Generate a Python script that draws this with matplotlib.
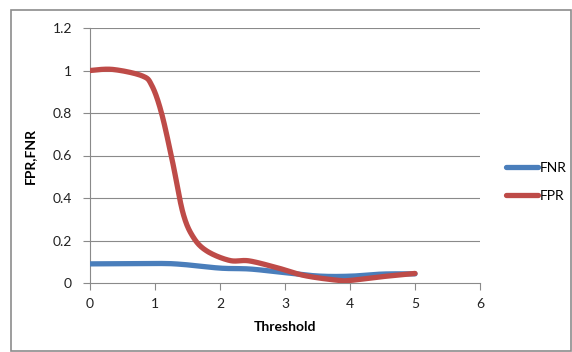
import numpy as np
import matplotlib
matplotlib.use("Agg")
import matplotlib.pyplot as plt
from matplotlib.patches import Rectangle

# values
fnr_x = [0, 1.0, 1.4, 2.0, 2.45, 2.9, 3.5, 4.0, 4.5, 5.0]
fnr_y = [0.09, 0.092, 0.088, 0.07, 0.066, 0.052, 0.033, 0.032, 0.042, 0.043]

fpr_x = [0, 0.35, 0.8, 0.95, 1.1, 1.27, 1.43, 1.59, 1.8, 2.15, 2.45, 2.9, 3.3, 3.8, 4.0, 4.5, 5.0]
fpr_y = [1.0, 1.005, 0.975, 0.93, 0.8, 0.57, 0.33, 0.215, 0.15, 0.106, 0.104, 0.07, 0.035, 0.013, 0.012, 0.03, 0.045]

x_ticks = [0, 1, 2, 3, 4, 5, 6]
y_ticks = [0, 0.2, 0.4, 0.6, 0.8, 1.0, 1.2]
y_labels = ["0", "0.2", "0.4", "0.6", "0.8", "1", "1.2"]


def smooth(xs, ys, n=30):
    # Catmull-Rom curve through the points, like Excel's smoothed line
    p = np.column_stack([xs, ys]).astype(float)
    p = np.vstack([p[0], p, p[-1]])
    out = []
    t = np.linspace(0, 1, n, endpoint=False)[:, None]
    for i in range(1, len(p) - 2):
        p0, p1, p2, p3 = p[i - 1], p[i], p[i + 1], p[i + 2]
        seg = 0.5 * ((2 * p1) + (-p0 + p2) * t
                     + (2 * p0 - 5 * p1 + 4 * p2 - p3) * t ** 2
                     + (-p0 + 3 * p1 - 3 * p2 + p3) * t ** 3)
        out.append(seg)
    out.append(p[-2][None, :])
    out = np.vstack(out)
    return out[:, 0], out[:, 1]


plt.rcParams['font.family'] = ['Lato', 'DejaVu Sans']

fig = plt.figure(figsize=(5.72, 3.52), dpi=100)
W, H = 572, 352
fig.patches.append(Rectangle((11 / W, 1 / H), 560 / W, 341 / H, transform=fig.transFigure,
                             fill=False, edgecolor='#8c8c8c', linewidth=1.2))

ax = fig.add_axes([90 / W, 1 - 283 / H, 390 / W, 255 / H])
ax.set_xlim(0, 6)
ax.set_ylim(0, 1.2)

grid_c = '#8a8a8a'
for v in y_ticks[1:]:
    ax.axhline(v, color=grid_c, linewidth=0.8, zorder=1)

bx, by = smooth(fnr_x, fnr_y)
rx, ry = smooth(fpr_x, fpr_y)
ax.plot(bx, by, color='#4a7ebb', linewidth=3.8, solid_capstyle='round', label='FNR', zorder=3)
ax.plot(rx, ry, color='#be4b48', linewidth=3.8, solid_capstyle='round', label='FPR', zorder=4)

for s in ['top', 'right']:
    ax.spines[s].set_visible(False)
for s in ['left', 'bottom']:
    ax.spines[s].set_color(grid_c)
    ax.spines[s].set_linewidth(0.8)

ax.set_xticks(x_ticks)
ax.set_yticks(y_ticks)
ax.set_yticklabels(y_labels)
ax.tick_params(axis='both', colors=grid_c, length=5, width=0.8, labelsize=10,
               labelcolor='#222222')
ax.tick_params(axis='y', pad=8)
ax.tick_params(axis='x', pad=6)

ax.set_xlabel('Threshold', fontsize=10, fontweight='bold', labelpad=8)
ax.set_ylabel('FPR,FNR', fontsize=10, fontweight='bold', labelpad=12)

handles, labels = ax.get_legend_handles_labels()
fig.legend(handles, labels, loc='upper left', bbox_to_anchor=(506 / W, 1 - 162 / H),
           frameon=False, fontsize=10, handlelength=2.3, handletextpad=0.15,
           labelspacing=1.15, borderpad=0, borderaxespad=0)

fig.savefig('out.png', dpi=100)
